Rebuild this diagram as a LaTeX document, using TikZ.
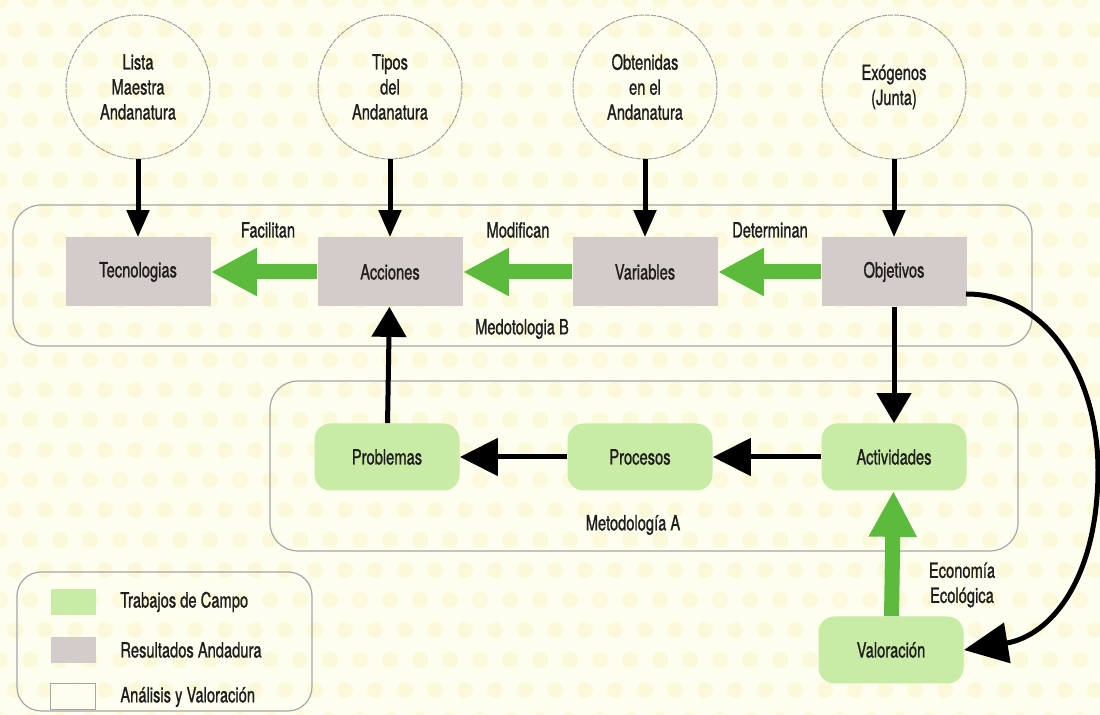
\documentclass[tikz,border=0pt]{standalone}
\usepackage{fontspec}
\setmainfont{TeX Gyre Heros}[FakeStretch=0.7,FakeBold=1.0]
\usetikzlibrary{arrows.meta}
\definecolor{bgc}{HTML}{FEFEEF}
\definecolor{dotc}{HTML}{FCF9DA}
\definecolor{resc}{HTML}{D4CCCA}
\definecolor{trabc}{HTML}{C8EBA6}
\definecolor{garr}{HTML}{5CBA3C}
\definecolor{txt}{HTML}{1E1E1E}
\newcommand{\lblfont}{\fontsize{10.5}{12.5}\selectfont}
\begin{document}
\begin{tikzpicture}[x=0.5pt,y=-0.5pt,
  circ/.style={circle, draw=gray!75, line width=0.5pt, dash pattern=on 2.5pt off 0.5pt, minimum size=72pt, inner sep=0pt, align=center, font=\lblfont, text=txt},
  resbox/.style={rectangle, fill=resc, minimum width=72.5pt, minimum height=34.5pt, inner sep=0pt, font=\lblfont, text=txt},
  trabbox/.style={rectangle, rounded corners=8pt, fill=trabc, minimum width=72.5pt, minimum height=33.5pt, inner sep=0pt, font=\lblfont, text=txt},
  container/.style={draw=gray!70, line width=0.6pt, rounded corners=14pt, inner sep=0pt},
  blk/.style={draw=black, line width=2.5pt, -{Triangle[length=13.5pt,width=11pt]}},
  blkmid/.style={draw=black, line width=2.5pt, -{Triangle[length=15pt,width=17pt]}},
  blkbig/.style={draw=black, line width=2.5pt, -{Triangle[length=19pt,width=18.5pt]}},
  grn/.style={draw=garr, line width=7.5pt, -{Triangle[length=23pt,width=22.5pt]}},
  lbl/.style={font=\lblfont, text=txt, inner sep=1pt, align=center},
  swatch/.style={rectangle, minimum width=22.5pt, minimum height=13pt, inner sep=0pt}
]
\useasboundingbox (0,0) rectangle (1100,715);
\fill[bgc] (0,0) rectangle (1100,715);
\begin{scope}
\clip (0,0) rectangle (1100,715);
\foreach \j in {0,...,24}{
  \pgfmathsetmacro\off{mod(\j,2)*15}
  \foreach \i in {0,...,37}{
    \fill[dotc] (\i*30+\off,\j*30) circle (4pt);
  }
}
\end{scope}

% containers
\node[container, minimum width=509.5pt, minimum height=70.5pt] (topc) at (522.5,275.5) {};
\node[container, minimum width=374pt, minimum height=85pt] (lowc) at (644,466) {};
\node[container, rounded corners=12pt, minimum width=147.5pt, minimum height=69.5pt] (leg) at (164.5,641.5) {};

% circles
\node[circ] (c1) at (138,87) {Lista\\Maestra\\Andanatura};
\node[circ] (c2) at (390,87) {Tipos\\del\\Andanatura};
\node[circ] (c3) at (645,87) {Obtenidas\\en el\\Andanatura};
\node[circ] (c4) at (894,87) {Exógenos\\(Junta)};

% result boxes
\node[resbox] (tec) at (138,272) {Tecnologias};
\node[resbox] (acc) at (390,272) {Acciones};
\node[resbox] (var) at (645,272) {Variables};
\node[resbox] (obj) at (894,272) {Objetivos};

% field work boxes
\node[trabbox] (prob) at (387,457) {Problemas};
\node[trabbox] (proc) at (640,457) {Procesos};
\node[trabbox] (act) at (894,457) {Actividades};
\node[trabbox] (val) at (891,650) {Valoración};

% labels
\node[lbl] (l1) at (268,230) {Facilitan};
\node[lbl] (l2) at (518,230) {Modifican};
\node[lbl] (l3) at (770,230) {Determinan};
\node[lbl] (l4) at (522,329) {Medotologia B};
\node[lbl] (l5) at (633,525) {Metodología A};
\node[lbl] (l6) at (962,585) {Economía\\Ecológica};

% arrows circles -> boxes
\draw[blk] (c1) -- (tec);
\draw[blk] (c2) -- (acc);
\draw[blk] (c3) -- (var);
\draw[blk] (c4) -- (obj);

% green arrows
\draw[grn] (acc) -- (tec);
\draw[grn] (var) -- (acc);
\draw[grn] (obj) -- (var);
\draw[grn] (val) -- (act);

% black arrows lower
\draw[blkbig] (proc) -- (prob);
\draw[blkbig] (act) -- (proc);
\draw[blkmid] (obj) -- (act);
\draw[blkmid] (prob) -- (acc);

% curved arrow
\coordinate (cs) at (966,294);
\draw[draw=black, line width=2.5pt, -{Triangle[length=22pt,width=20pt]}]
  (cs) .. controls (1050,294) and (1098,380) .. (1098,470)
       .. controls (1098,580) and (1050,636) .. (val.east);

% legend
\node[swatch, fill=trabc] (s1) at (73,602) {};
\node[swatch, fill=resc] (s2) at (73,650) {};
\node[swatch, draw=gray!70, line width=0.5pt, fill=bgc] (s3) at (73,697) {};
\node[lbl, anchor=west] (t1) at (118,602) {Trabajos de Campo};
\node[lbl, anchor=west] (t2) at (118,650) {Resultados Andadura};
\node[lbl, anchor=west] (t3) at (118,697) {Análisis y Valoración};
\end{tikzpicture}
\end{document}
